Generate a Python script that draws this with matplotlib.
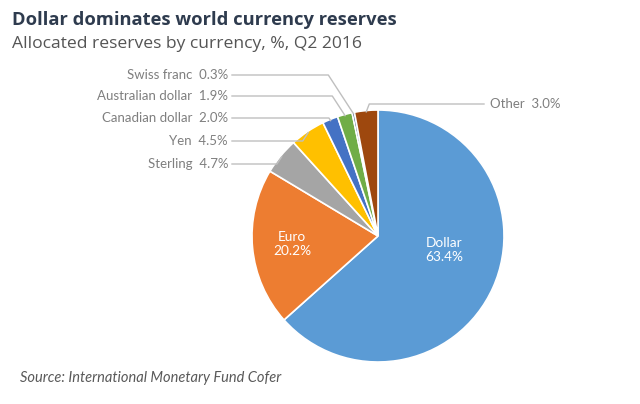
import numpy as np
import matplotlib
matplotlib.use('Agg')
import matplotlib.pyplot as plt

# ── Datos ────────────────────────────────────────────────────────────────
currencies = ['Dollar', 'Euro', 'Sterling', 'Yen', 'Canadian dollar',
              'Australian dollar', 'Swiss franc', 'Other']
shares = [63.4, 20.2, 4.7, 4.5, 2.0, 1.9, 0.3, 3.0]
colors = ['#5B9BD5', '#ED7D31', '#A5A5A5', '#FFC000', '#4472C4',
          '#70AD47', '#264478', '#9E480E']

W, H = 640, 404
CX, CY, R = 378, 236, 126          # centro/radio del pastel en píxeles

fig = plt.figure(figsize=(W / 100, H / 100), dpi=100)
ax = fig.add_axes([0, 0, 1, 1])

wedges, _ = ax.pie(shares, colors=colors, startangle=90, counterclock=False,
                   center=(CX, H - CY), radius=R,
                   wedgeprops=dict(edgecolor='white', linewidth=1.2))
ax.set_xlim(0, W); ax.set_ylim(0, H)
ax.set_aspect('equal'); ax.axis('off')

def edge_point(w, frac=0.5, rr=1.0):
    ang = np.deg2rad(w.theta1 + frac * (w.theta2 - w.theta1))
    return CX + rr * R * np.cos(ang), (H - CY) + rr * R * np.sin(ang)

label_font = dict(family='Lato', fontsize=9.5, color='#7F7F7F')
line_kw = dict(color='#BFBFBF', lw=1.0)

# etiquetas de la izquierda (y en píxeles)
left_labels = {'Swiss franc': 75, 'Australian dollar': 96,
               'Canadian dollar': 118, 'Yen': 141, 'Sterling': 164}
for name, ypx in left_labels.items():
    i = currencies.index(name)
    w = wedges[i]
    y = H - ypx
    dy = y - (H - CY)
    hit = None
    if abs(dy) < R:
        hx = CX - np.sqrt(R**2 - dy**2)
        ang = np.degrees(np.arctan2(dy, hx - CX))
        if w.theta1 <= ang <= w.theta2:
            hit = hx
    if hit is not None:
        ax.plot([232, hit], [y, y], **line_kw)
    else:
        ex, ey = edge_point(w, 0.5, 0.99)
        kx = ex - abs(ey - y) * 0.65
        ax.plot([232, kx, ex], [y, y, ey], **line_kw)
    ax.text(228, y, f'{name}  {shares[i]:.1f}%', ha='right', va='center',
            **label_font)

# Other
i = currencies.index('Other')
ex, ey = edge_point(wedges[i], 0.5, 0.99)
y = H - 104
ax.plot([ex, ex + 3, 484], [ey, y, y], **line_kw)
ax.text(490, y, f'Other  {shares[i]:.1f}%', ha='left', va='center',
        **label_font)

# etiquetas internas
for name, frac, rr in [('Dollar', 0.553, 0.54), ('Euro', 0.5, 0.685)]:
    i = currencies.index(name)
    tx, ty = edge_point(wedges[i], frac, rr)
    ax.text(tx, ty, f'{name}\n{shares[i]:.1f}%', ha='center', va='center',
            color='white', family='Lato', fontsize=9.8, linespacing=1.25)

fig.text(12 / W, 1 - 20 / H, 'Dollar dominates world currency reserves',
         family='Open Sans', fontweight='bold', fontsize=13.2,
         color='#2E3B4E', va='center')
fig.text(12 / W, 1 - 44 / H, 'Allocated reserves by currency, %, Q2 2016',
         family='Open Sans', fontsize=12.6, color='#555555', va='center')
fig.text(20 / W, 1 - 378 / H, 'Source: International Monetary Fund Cofer',
         family='Lato', style='italic', fontsize=10.5, color='#595959',
         va='center')

fig.savefig('out.png', dpi=100)
